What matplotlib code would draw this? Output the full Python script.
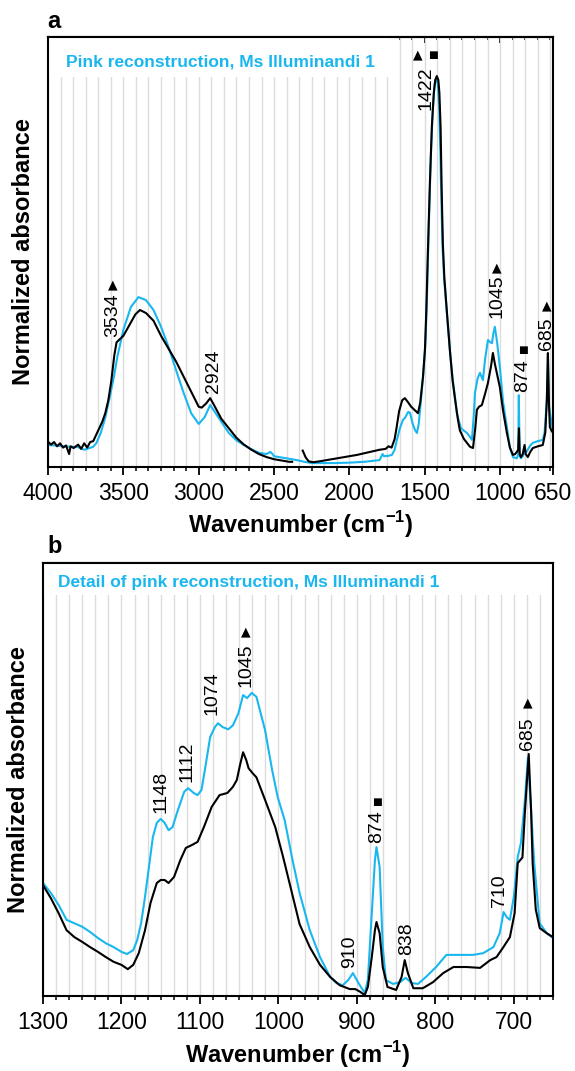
import numpy as np
import matplotlib
matplotlib.use("Agg")
import matplotlib.pyplot as plt
from matplotlib.patches import Rectangle
from matplotlib.ticker import FixedLocator

CYAN = "#1AB7EF"
GRID = "#dcdcdc"

# ---- panel a: full spectrum, 4000-650 cm-1 (black = manuscript, cyan = reconstruction)
wn_a_ms = [4000, 3980, 3960, 3940, 3920, 3900, 3880, 3860, 3850, 3830, 3800, 3780,
           3760, 3740, 3720, 3700, 3680, 3660, 3640, 3620, 3600, 3580, 3560, 3545,
           3530, 3500, 3460, 3420, 3390, 3350, 3300, 3250, 3200, 3150, 3100, 3050,
           3000, 2980, 2950, 2924, 2900, 2870, 2850, 2800, 2750, 2700, 2650, 2600,
           2550, 2500, 2450, 2400, 2380, np.nan,
           2310, 2290, 2270, 2240, 2200, 2150, 2100, 2050, 2000, 1950, 1900, 1850,
           1800, 1760, 1740, 1720, 1700, 1690, 1670, 1650, 1632, 1610, 1590, 1575,
           1560, 1545, 1530, 1512, 1499, 1490, 1479, 1466, 1453, 1440, 1430, 1420,
           1410, 1403, 1395, 1388, 1380, 1370, 1353, 1333, 1315, 1300, 1280, 1267,
           1240, 1220, 1200, 1180, 1165, 1154, 1140,
           1121, 1100, 1081, 1060, 1048, 1035, 1020, 1002, 980, 955, 935, 915,
           900, 889, 880, 875, 870, 862, 850, 838, 830, 816, 800, 783, 750, 717,
           700, 690, 683, 676, 670, 660, 650]
abs_a_ms = [0.059, 0.052, 0.058, 0.048, 0.055, 0.045, 0.050, 0.030, 0.048, 0.044, 0.052, 0.042,
            0.055, 0.045, 0.058, 0.060, 0.075, 0.090, 0.105, 0.125, 0.155, 0.200, 0.260, 0.290,
            0.295, 0.305, 0.330, 0.355, 0.365, 0.358, 0.340, 0.305, 0.275, 0.245, 0.210, 0.175,
            0.140, 0.138, 0.148, 0.160, 0.145, 0.125, 0.112, 0.090, 0.068, 0.052, 0.040, 0.030,
            0.023, 0.018, 0.015, 0.012, 0.012, np.nan,
            0.038, 0.022, 0.013, 0.011, 0.013, 0.016, 0.019, 0.022, 0.025, 0.028, 0.032, 0.036,
            0.040, 0.042, 0.048, 0.045, 0.065, 0.085, 0.130, 0.155, 0.160, 0.150, 0.140, 0.135,
            0.130, 0.125, 0.150, 0.209, 0.272, 0.360, 0.505, 0.660, 0.791, 0.870, 0.900, 0.909,
            0.900, 0.870, 0.790, 0.650, 0.520, 0.440, 0.360, 0.270, 0.200, 0.160, 0.110, 0.085,
            0.065, 0.056, 0.047, 0.044, 0.090, 0.133, 0.140,
            0.144, 0.170, 0.195, 0.235, 0.265, 0.240, 0.215, 0.186, 0.130, 0.079, 0.045, 0.028,
            0.030, 0.035, 0.040, 0.090, 0.030, 0.023, 0.030, 0.051, 0.030, 0.023, 0.035, 0.044, 0.048, 0.051,
            0.080, 0.156, 0.265, 0.150, 0.093, 0.085, 0.080]

wn_a_rec = [4000, 3950, 3900, 3850, 3800, 3760, 3740, 3700, 3680, 3650, 3620, 3590,
            3560, 3540, 3500, 3450, 3400, 3350, 3300, 3250, 3200, 3150, 3100, 3050,
            3000, 2960, 2924, 2880, 2850, 2800, 2750, 2700, 2650, 2600, 2550, 2525,
            2510, 2500, 2450, 2400, 2350, 2300, 2250, 2200, 2100, 2000, 1900, 1850,
            1800, 1780, 1770, 1740, 1718, 1700, 1685, 1665, 1645, 1630, 1610, 1598,
            1580, 1565, 1552, 1540, 1525, 1510, 1495, 1485, 1473, 1460, 1447, 1435,
            1425, 1413, 1405, 1397, 1390, 1382, 1372, 1355, 1333, 1315, 1300, 1287,
            1260, 1220, 1200, 1187, 1175, 1167,
            1150, 1134, 1114, 1100, 1081, 1065, 1054, 1045, 1035, 1020, 1002, 980,
            955, 935, 915, 889, 880, 876, 870, 862, 850, 838, 825, 800,
            783, 750, 717, 705, 695, 690, 683, 676, 665, 650]
abs_a_rec = [0.051, 0.050, 0.048, 0.047, 0.046, 0.040, 0.042, 0.047, 0.055, 0.079, 0.115, 0.163,
             0.215, 0.256, 0.319, 0.372, 0.395, 0.388, 0.365, 0.326, 0.279, 0.225, 0.172, 0.125,
             0.100, 0.116, 0.144, 0.121, 0.105, 0.079, 0.062, 0.051, 0.041, 0.033, 0.030, 0.035,
             0.030, 0.025, 0.022, 0.019, 0.016, 0.012, 0.009, 0.009, 0.009, 0.010, 0.012, 0.014,
             0.016, 0.030, 0.025, 0.026, 0.028, 0.040, 0.063, 0.090, 0.109, 0.115, 0.128, 0.126,
             0.100, 0.086, 0.079, 0.100, 0.156, 0.215, 0.290, 0.400, 0.560, 0.720, 0.830, 0.890,
             0.905, 0.890, 0.840, 0.740, 0.620, 0.510, 0.440, 0.365, 0.270, 0.205, 0.165, 0.125,
             0.090, 0.079, 0.070, 0.063, 0.120, 0.172,
             0.205, 0.219, 0.202, 0.250, 0.295, 0.290, 0.288, 0.310, 0.326, 0.290, 0.233, 0.150,
             0.093, 0.045, 0.023, 0.020, 0.030, 0.167, 0.025, 0.020, 0.025, 0.033, 0.035, 0.050,
             0.056, 0.060, 0.063, 0.080, 0.130, 0.156, 0.256, 0.140, 0.116, 0.086]

# ---- panel b: detail 1300-650 cm-1
wn_b_ms = [1300, 1290, 1280, 1270, 1260, 1250, 1240, 1230, 1220, 1210, 1200, 1192,
           1185, 1178, 1170, 1163, 1155, 1150, 1145, 1140, 1133, 1125, 1118, 1110,
           1103, 1095, 1085, 1075, 1065, 1058, 1053, 1049, 1045, 1041, 1038, 1033,
           1028, 1017, 1004, 994, 983, 973, 960, 947, 934, 922, 909, 902,
           896, 890, 886, 881, 877, 875, 871, 867, 861, 850, 843, 839,
           835, 828, 816, 803, 790, 777, 760, 743, 730, 722, 714, 705,
           699, 695, 689, 686, 681, 678, 676, 672, 667, 658, 650]
abs_b_ms = [0.256, 0.226, 0.191, 0.152, 0.136, 0.125, 0.113, 0.102, 0.090, 0.079, 0.072, 0.062,
            0.072, 0.099, 0.152, 0.215, 0.261, 0.268, 0.268, 0.261, 0.275, 0.314, 0.342, 0.349,
            0.356, 0.390, 0.437, 0.464, 0.469, 0.483, 0.499, 0.533, 0.563, 0.545, 0.526, 0.515,
            0.505, 0.453, 0.390, 0.321, 0.240, 0.166, 0.113, 0.072, 0.044, 0.025, 0.016, 0.016,
            0.010, 0.002, 0.021, 0.090, 0.152, 0.171, 0.145, 0.067, 0.021, 0.014, 0.044, 0.083,
            0.053, 0.018, 0.018, 0.032, 0.053, 0.067, 0.067, 0.065, 0.083, 0.090, 0.111, 0.136,
            0.191, 0.307, 0.320, 0.420, 0.559, 0.430, 0.307, 0.200, 0.157, 0.145, 0.136]

wn_b_rec = [1300, 1290, 1280, 1270, 1260, 1250, 1240, 1230, 1220, 1210, 1200, 1193,
            1185, 1180, 1175, 1170, 1165, 1160, 1155, 1150, 1145, 1140, 1135, 1128,
            1120, 1115, 1108, 1103, 1098, 1093, 1087, 1081, 1077, 1071, 1064, 1058,
            1051, 1045, 1040, 1034, 1028, 1017, 1008, 1001, 992, 982, 973, 960,
            947, 934, 926, 918, 911, 905, 898, 890, 886, 881, 877, 875,
            871, 867, 863, 854, 845, 838, 830, 822, 812, 799, 786, 773,
            752, 739, 726, 718, 713, 709, 705, 700, 695, 691, 686, 682,
            678, 674, 667, 658, 650]
abs_b_rec = [0.261, 0.238, 0.210, 0.176, 0.168, 0.160, 0.148, 0.134, 0.122, 0.113, 0.102, 0.097,
             0.106, 0.129, 0.168, 0.229, 0.298, 0.367, 0.400, 0.409, 0.400, 0.383, 0.390, 0.430,
             0.472, 0.480, 0.469, 0.464, 0.476, 0.530, 0.598, 0.621, 0.630, 0.621, 0.616, 0.625,
             0.653, 0.695, 0.688, 0.700, 0.691, 0.614, 0.522, 0.460, 0.406, 0.314, 0.238, 0.152,
             0.090, 0.044, 0.030, 0.025, 0.037, 0.053, 0.030, 0.007, 0.037, 0.191, 0.314, 0.344,
             0.298, 0.113, 0.037, 0.028, 0.032, 0.042, 0.030, 0.028, 0.044, 0.067, 0.095, 0.095,
             0.095, 0.099, 0.113, 0.145, 0.194, 0.182, 0.176, 0.229, 0.321, 0.353, 0.450, 0.550,
             0.430, 0.307, 0.168, 0.145, 0.134]

# peak labels: (wavenumber, label bottom, text, marker, marker height)
peaks_a = [(3569, 0.302, "3534", "▲", 0.423),
           (2905, 0.172, "2924", None, None),
           (1492, 0.830, "1422", None, None),
           (1021, 0.347, "1045", "▲", 0.463),
           (849, 0.174, "874", "■", 0.272),
           (690, 0.272, "685", "▲", 0.374)]
peaks_b = [(1150, 0.423, "1148", None, None),
           (1117, 0.494, "1112", None, None),
           (1085, 0.649, "1074", None, None),
           (1041, 0.714, "1045", "▲", 0.841),
           (909, 0.065, "910", None, None),
           (875, 0.353, "874", "■", 0.448),
           (836, 0.095, "838", None, None),
           (718, 0.206, "710", None, None),
           (682, 0.568, "685", "▲", 0.677)]


def base_style():
    plt.rcParams.update({
        "font.family": ["Liberation Sans", "DejaVu Sans"],
        "mathtext.fontset": "custom",
        "mathtext.bf": "Liberation Sans:bold",
        "mathtext.rm": "Liberation Sans",
        "axes.linewidth": 1.5,
        "figure.facecolor": "white",
    })


def setup_axes(ax, x_hi, x_lo, majors, labels, minor_step, mask_box):
    ax.set_xlim(x_hi, x_lo)
    ax.set_ylim(0, 1)
    ax.set_yticks([])
    minors = np.arange(x_hi, x_lo - 1e-6, -minor_step)
    ax.set_xticks(majors)
    ax.set_xticklabels(labels)
    ax.xaxis.set_minor_locator(FixedLocator(minors))
    ax.tick_params(axis="x", which="major", direction="out", length=5.5, width=1.3,
                   pad=5, labelsize=16.5)
    ax.tick_params(axis="x", which="minor", direction="out", length=3, width=1.1)
    ax.grid(axis="x", which="both", color=GRID, linewidth=1.0)
    ax.set_axisbelow(True)

    top = ax.secondary_xaxis("top")
    top.set_xticks(majors)
    top.xaxis.set_minor_locator(FixedLocator(minors))
    top.tick_params(which="major", direction="in", length=4, width=1.3, labeltop=False)
    top.tick_params(which="minor", direction="in", length=2.5, width=1.1)

    x0, y0, w, h = mask_box
    ax.add_patch(Rectangle((x0, y0), w, h, transform=ax.transAxes,
                           facecolor="white", edgecolor="none", zorder=0.8))


def draw_peaks(ax, peaks):
    for wn, y, txt, mark, ym in peaks:
        ax.text(wn, y, txt, rotation=90, ha="center", va="bottom", fontsize=14, zorder=5)
        if mark:
            size = 9 if mark == "▲" else 7.5
            ax.text(wn, ym, mark, ha="center", va="center", fontsize=size,
                    family="DejaVu Sans", zorder=5)


def main():
    base_style()
    fig = plt.figure(figsize=(5.75, 10.71), dpi=100)
    ax_a = fig.add_axes([0.0835, 0.564, 0.878, 0.4015])
    ax_b = fig.add_axes([0.0748, 0.070, 0.887, 0.4043])

    # panel a
    setup_axes(ax_a, 4000, 650, [4000, 3500, 3000, 2500, 2000, 1500, 1000, 650],
               ["4000", "3500", "3000", "2500", "2000", "1500", "1000", "650"],
               500 / 6, (0, 0.907, 0.675, 0.093))
    ax_a.plot(wn_a_rec, abs_a_rec, color=CYAN, lw=1.5, zorder=2)
    ax_a.plot(wn_a_ms, abs_a_ms, color="black", lw=1.5, zorder=3)
    ax_a.text(0.036, 0.942, "Pink reconstruction, Ms Illuminandi 1", transform=ax_a.transAxes,
              color=CYAN, fontsize=12.5, fontweight="bold", va="center", ha="left")
    ax_a.text(1546, 0.958, "▲", ha="center", va="center", fontsize=9, family="DejaVu Sans")
    ax_a.text(1446, 0.958, "■", ha="center", va="center", fontsize=7.5, family="DejaVu Sans")
    draw_peaks(ax_a, peaks_a)

    # panel b
    setup_axes(ax_b, 1300, 650, [1300, 1200, 1100, 1000, 900, 800, 700],
               ["1300", "1200", "1100", "1000", "900", "800", "700"],
               100 / 6, (0, 0.926, 1.0, 0.074))
    ax_b.plot(wn_b_rec, abs_b_rec, color=CYAN, lw=1.5, zorder=2)
    ax_b.plot(wn_b_ms, abs_b_ms, color="black", lw=1.5, zorder=3)
    ax_b.text(0.029, 0.956, "Detail of pink reconstruction, Ms Illuminandi 1",
              transform=ax_b.transAxes, color=CYAN, fontsize=12.5, fontweight="bold",
              va="center", ha="left")
    draw_peaks(ax_b, peaks_b)

    for ax in (ax_a, ax_b):
        ax.set_ylabel("Normalized absorbance", fontsize=17, fontweight="bold")
        ax.set_xlabel("Wavenumber (cm$^{\\mathbf{-1}}$)", fontsize=17, fontweight="bold")
        ax.yaxis.set_label_coords(-0.026, 0.5)
    ax_a.xaxis.set_label_coords(0.5, -0.098)
    ax_b.xaxis.set_label_coords(0.5, -0.1)

    fig.text(0.083, 0.974, "a", fontsize=17, fontweight="bold", va="baseline")
    fig.text(0.082, 0.4837, "b", fontsize=17, fontweight="bold", va="baseline")

    fig.savefig("out.png", dpi=100)


if __name__ == "__main__":
    main()
